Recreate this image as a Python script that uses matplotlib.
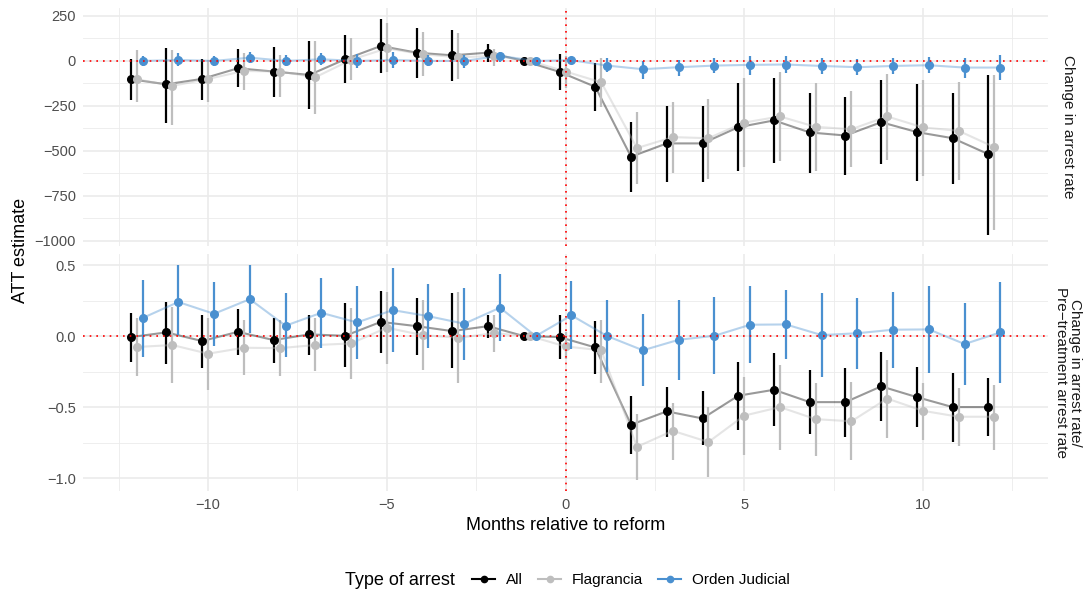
import numpy as np
import matplotlib.pyplot as plt
from matplotlib.lines import Line2D

plt.rcParams['font.family'] = ['Liberation Sans', 'DejaVu Sans']

months = np.arange(-12, 13)

# --- Panel 1: change in arrest rate ---
all_est1 = [-102, -130, -100, -41, -59, -78, 9, 83, 46, 31, 46, 0, -61,
            -144, -533, -459, -459, -369, -331, -398, -415, -341, -396, -430, -519]
all_lo1 = [-217, -343, -217, -146, -198, -269, -124, -69, -94, -113, -6, 0, -161,
           -276, -730, -674, -672, -613, -569, -626, -635, -574, -670, -685, -969]
all_hi1 = [9, 74, 9, 65, 76, 113, 146, 231, 183, 172, 94, 0, 39,
           -13, -341, -250, -252, -124, -96, -176, -198, -107, -130, -178, -76]

fla_est1 = [-102, -139, -100, -56, -59, -91, 6, 70, 37, 20, 28, 0, -59,
            -119, -485, -424, -430, -343, -309, -367, -380, -309, -370, -389, -480]
fla_lo1 = [-226, -356, -231, -161, -198, -296, -106, -59, -83, -98, -31, 0, -150,
           -254, -683, -626, -656, -591, -559, -611, -593, -550, -639, -663, -943]
fla_hi1 = [61, 61, 6, 43, 33, 113, 126, 213, 163, 154, 65, 0, 30,
           15, -287, -226, -211, -96, -59, -124, -165, -72, -106, -115, -78]

oj_est1 = [0, 5, 0, 18, 0, 9, 0, 5, 0, 0, 28, 0, 4,
           -26, -46, -35, -26, -22, -20, -28, -35, -28, -24, -37, -37]
oj_lo1 = [-26, -28, -31, -13, -26, -22, -37, -37, -31, -37, -4, 0, -13,
          -63, -98, -83, -69, -78, -69, -72, -80, -72, -69, -93, -106]
oj_hi1 = [28, 46, 30, 48, 33, 43, 37, 50, 33, 33, 52, 0, 20,
          15, 2, 6, 15, 28, 28, 15, 9, 15, 24, 15, 33]

# --- Panel 2: change / pre-treatment arrest rate ---
all_est2 = [-0.007, 0.026, -0.035, 0.03, -0.028, 0.012, 0.002, 0.10, 0.07, 0.035, 0.07, 0.0, -0.007,
            -0.08, -0.624, -0.53, -0.58, -0.42, -0.378, -0.465, -0.465, -0.354, -0.43, -0.50, -0.50]
all_lo2 = [-0.18, -0.20, -0.225, -0.13, -0.19, -0.13, -0.22, -0.12, -0.13, -0.225, -0.014, 0.0, -0.16,
           -0.27, -0.83, -0.71, -0.77, -0.66, -0.636, -0.69, -0.71, -0.60, -0.643, -0.744, -0.707]
all_hi2 = [0.16, 0.24, 0.15, 0.19, 0.13, 0.15, 0.23, 0.32, 0.27, 0.30, 0.15, 0.0, 0.145,
           0.108, -0.425, -0.355, -0.385, -0.18, -0.12, -0.24, -0.225, -0.11, -0.22, -0.26, -0.296]

fla_est2 = [-0.077, -0.063, -0.124, -0.082, -0.085, -0.063, -0.052, 0.059, 0.007, -0.012, 0.02, 0.0, -0.073,
            -0.10, -0.78, -0.667, -0.746, -0.56, -0.50, -0.585, -0.60, -0.44, -0.526, -0.568, -0.568]
fla_lo2 = [-0.284, -0.33, -0.378, -0.275, -0.28, -0.244, -0.303, -0.2, -0.237, -0.33, -0.11, 0.0, -0.16,
           -0.33, -1.016, -0.87, -0.99, -0.836, -0.805, -0.843, -0.876, -0.72, -0.73, -0.777, -0.80]
fla_hi2 = [0.127, 0.204, 0.127, 0.11, 0.11, 0.127, 0.197, 0.31, 0.256, 0.31, 0.146, 0.0, 0.03,
           0.115, -0.547, -0.47, -0.50, -0.29, -0.204, -0.33, -0.324, -0.167, -0.33, -0.366, -0.343]

oj_est2 = [0.127, 0.24, 0.157, 0.26, 0.073, 0.164, 0.096, 0.183, 0.14, 0.087, 0.20, 0.0, 0.146,
           0.0, -0.10, -0.026, 0.002, 0.08, 0.082, 0.007, 0.02, 0.045, 0.047, -0.056, 0.026]
oj_lo2 = [-0.148, 0.01, -0.07, 0.02, -0.15, -0.085, -0.16, -0.115, -0.087, -0.167, -0.033, 0.0, -0.09,
          -0.256, -0.354, -0.307, -0.27, -0.19, -0.16, -0.29, -0.23, -0.225, -0.26, -0.345, -0.33]
oj_hi2 = [0.397, 0.50, 0.38, 0.50, 0.30, 0.41, 0.35, 0.477, 0.37, 0.336, 0.434, 0.0, 0.385,
          0.256, 0.155, 0.256, 0.275, 0.35, 0.326, 0.30, 0.27, 0.31, 0.355, 0.23, 0.38]

series_names = ['All', 'Flagrancia', 'Orden Judicial']
colors = ['#000000', '#BEBEBE', '#4A90D0']
dodge = [-1/6, 0, 1/6]

panel1 = [(all_est1, all_lo1, all_hi1), (fla_est1, fla_lo1, fla_hi1), (oj_est1, oj_lo1, oj_hi1)]
panel2 = [(all_est2, all_lo2, all_hi2), (fla_est2, fla_lo2, fla_hi2), (oj_est2, oj_lo2, oj_hi2)]

fig = plt.figure(figsize=(10.84, 5.90), dpi=100)
left, right = 83 / 1084, 1048 / 1084
ax1 = fig.add_axes([left, 0.583, right - left, 0.403])
ax2 = fig.add_axes([left, 0.168, right - left, 0.401])

grid_col = '#EBEBEB'


def draw_panel(ax, data, ylim, yticks, yminor):
    for sp in ax.spines.values():
        sp.set_visible(False)
    for xm in [-12.5, -7.5, -2.5, 2.5, 7.5, 12.5]:
        ax.axvline(xm, color=grid_col, lw=0.6, zorder=0)
    for xm in [-10, -5, 0, 5, 10]:
        ax.axvline(xm, color=grid_col, lw=1.2, zorder=0)
    for ym in yminor:
        ax.axhline(ym, color=grid_col, lw=0.6, zorder=0)
    for ym in yticks:
        ax.axhline(ym, color=grid_col, lw=1.2, zorder=0)
    for k, (est, lo, hi) in enumerate(data):
        x = months + dodge[k]
        ax.plot(x, est, color=colors[k], alpha=0.4, lw=1.5, zorder=2 + k)
        ax.vlines(x, lo, hi, color=colors[k], lw=1.6, zorder=3 + k)
        ax.plot(x, est, 'o', color=colors[k], ms=5.5, zorder=4 + k)
    ax.axhline(0, color='red', ls=(0, (1, 3)), lw=1.2, zorder=10)
    ax.axvline(0, color='red', ls=(0, (1, 3)), lw=1.2, zorder=10)
    ax.set_xlim(-13.5, 13.5)
    ax.set_ylim(*ylim)
    ax.set_yticks(yticks)
    ax.set_xticks([-10, -5, 0, 5, 10])
    ax.tick_params(length=0, labelsize=10.5, labelcolor='#4D4D4D', pad=5)


draw_panel(ax1, panel1, (-1030, 293), [250, 0, -250, -500, -750, -1000],
           [125, -125, -375, -625, -875])
ax1.set_yticklabels(['250', '0', '\u2212250', '\u2212500', '\u2212750', '\u22121000'])
ax1.set_xticklabels([])

draw_panel(ax2, panel2, (-1.09, 0.576), [0.5, 0.0, -0.5, -1.0], [0.25, -0.25, -0.75])
ax2.set_yticklabels(['0.5', '0.0', '\u22120.5', '\u22121.0'])
ax2.set_xticklabels(['\u221210', '\u22125', '0', '5', '10'])
ax2.set_xlabel('Months relative to reform', fontsize=13, labelpad=4)

fig.text(0.019, 0.575, 'ATT estimate', rotation=90, fontsize=13, va='center', ha='center')
fig.text(0.9855, 0.785, 'Change in arrest rate', rotation=-90, fontsize=11,
         va='center', ha='center', color='#1A1A1A')
fig.text(0.9855, 0.368, 'Change in arrest rate/\nPre\u2212treatment arrest rate', rotation=-90,
         fontsize=11, va='center', ha='center', color='#1A1A1A', linespacing=1.0)

handles = [Line2D([0], [0], color=c, marker='o', ms=4.5, lw=1.5) for c in colors]
fig.text(0.318, 0.0165, 'Type of arrest', fontsize=13, va='center', ha='left')
fig.legend(handles, series_names, loc='lower left', bbox_to_anchor=(0.423, -0.018), ncol=3,
           frameon=False, fontsize=11, handlelength=1.5, columnspacing=1.0, handletextpad=0.7)

fig.savefig('out.png', dpi=100, facecolor='white')
